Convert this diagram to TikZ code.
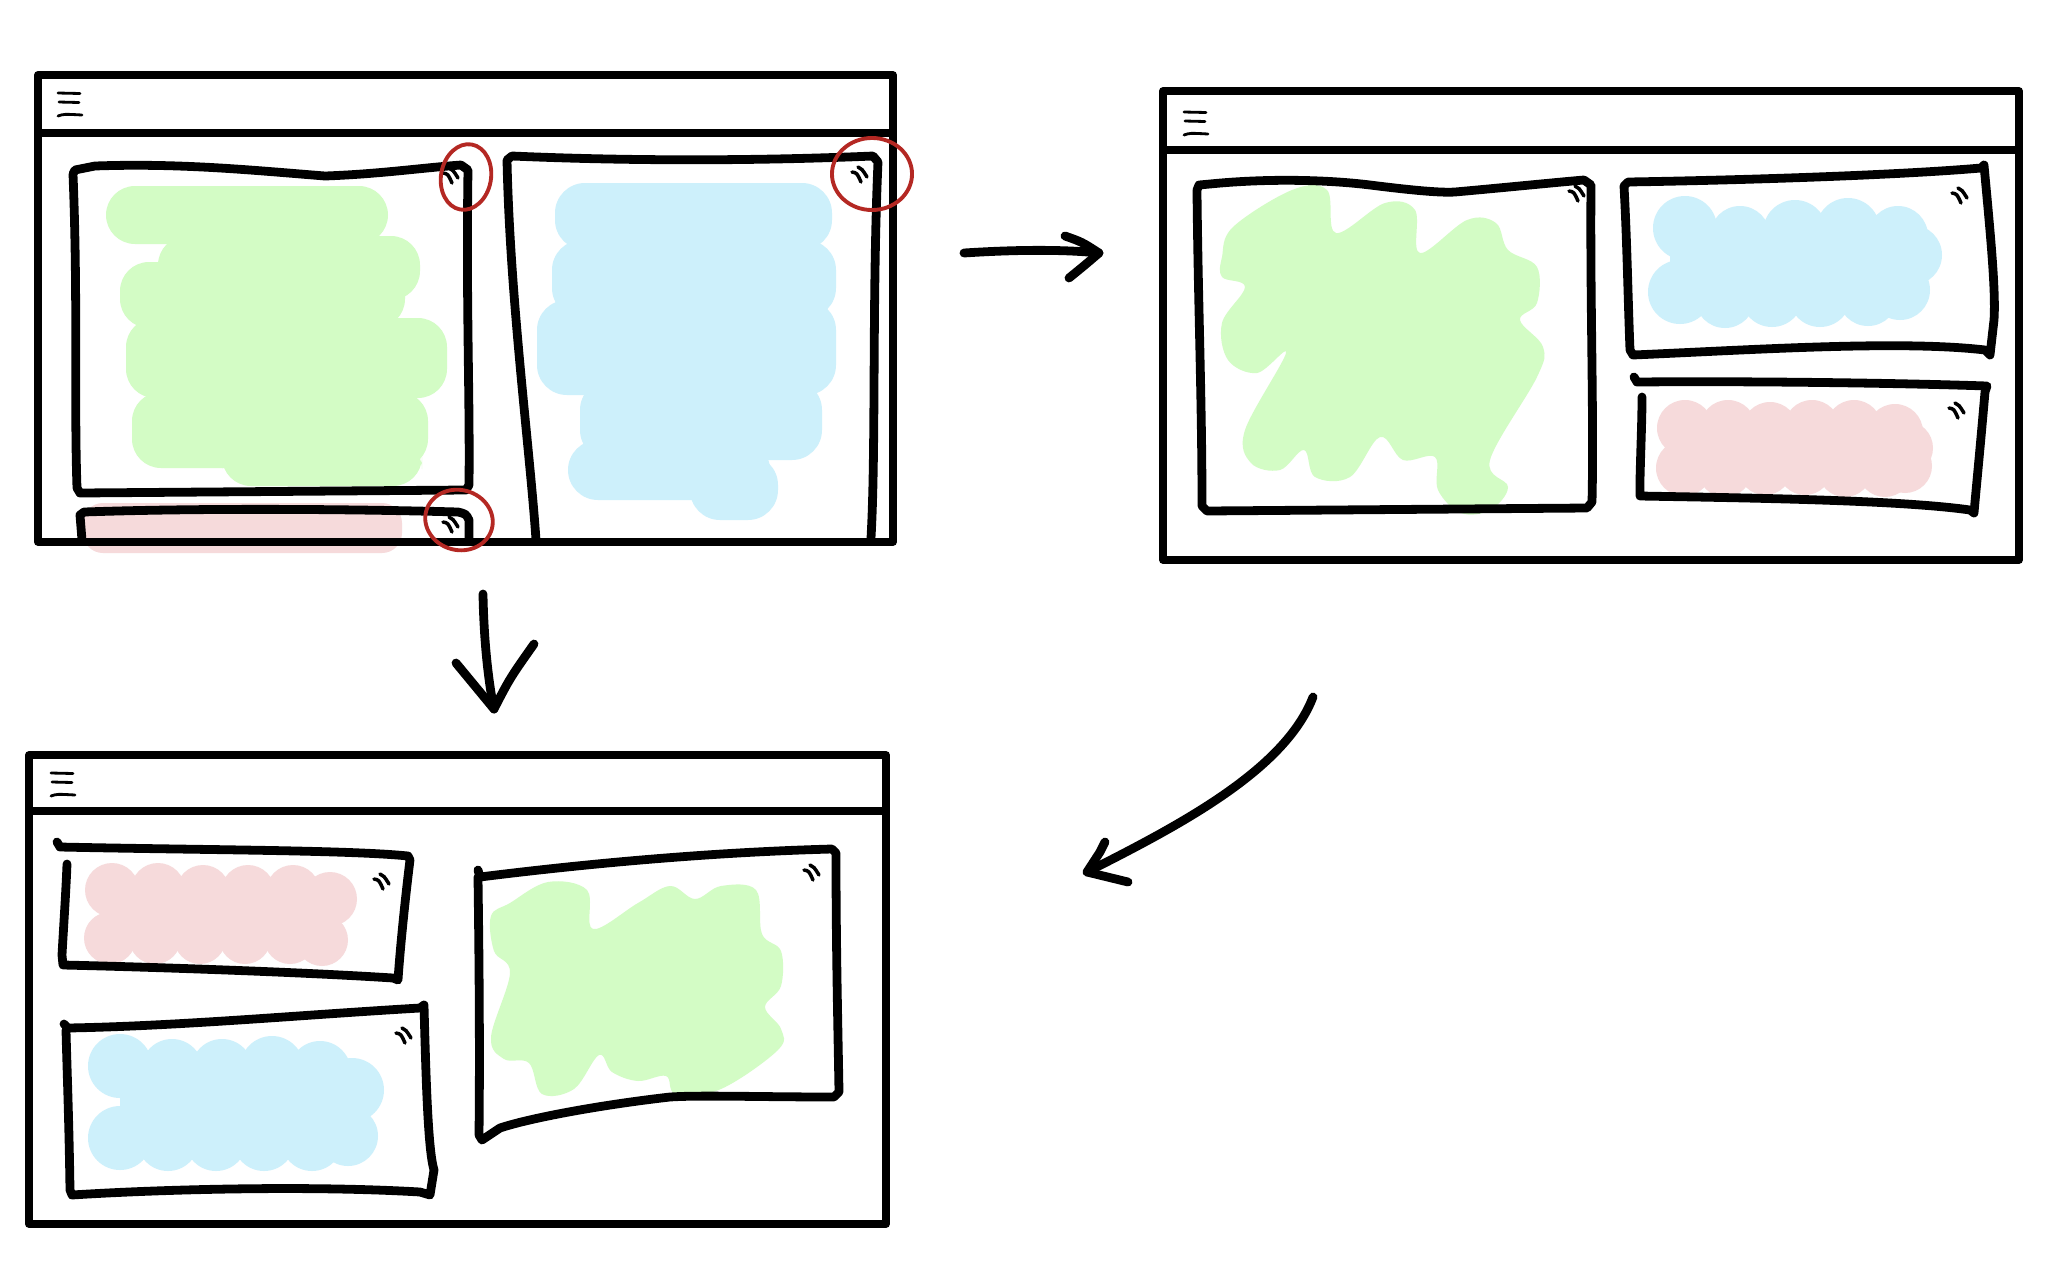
\documentclass[tikz,border=0pt]{standalone}
\definecolor{gfill}{HTML}{D3FCC5}
\definecolor{bfill}{HTML}{CDF0FB}
\definecolor{pfill}{HTML}{F6DADB}
\definecolor{redmark}{RGB}{180,40,35}
\tikzset{
  win/.style={line width=2.2pt, line join=round, line cap=round},
  card/.style={line width=2.5pt, line join=round, line cap=round},
  thinline/.style={line width=0.8pt, line cap=round},
  cornermark/.style={line width=1pt, line cap=round},
  redcirc/.style={redmark, line width=1.1pt},
  arr/.style={line width=2.5pt, line cap=round, line join=round},
  gblob/.style={fill=gfill, draw=none},
  bblob/.style={fill=bfill, draw=none},
  pblob/.style={fill=pfill, draw=none},
  gstroke/.style={fill=gfill, draw=none, rounded corners=0.29cm},
  bstroke/.style={fill=bfill, draw=none, rounded corners=0.3cm}
}
\newcommand\hamb[2]{\draw[thinline, shift={(#1,#2)}] (0,0) -- (22,0.5) (1,9) -- (21,9.5) (0,23) .. controls (6,21) .. (24,22);}
\newcommand\cmk[2]{\draw[cornermark, shift={(#1,#2)}] (-9,-5) .. controls (-4,-4) .. (0,5) (-3,-10) .. controls (1,-8) .. (6,0);}
\newcommand\bub[4]{\fill[#1] (#2,#3) circle [radius=#4*0.01cm];}
\begin{document}
\begin{tikzpicture}[x=0.01cm, y=-0.01cm]
\useasboundingbox (0,0) rectangle (2056,1263);
\fill[white] (0,0) rectangle (2056,1263);

% ---------- Window 1 blobs ----------
\fill[gstroke] (106,186) rectangle (388,244);
\fill[gstroke] (158,236) rectangle (420,300);
\fill[gstroke] (120,262) rectangle (405,328);
\fill[gstroke] (126,318) rectangle (447,398);
\fill[gstroke] (132,392) rectangle (428,468);
\fill[gstroke] (222,440) rectangle (422,486);
\fill[bstroke] (555,183) rectangle (832,250);
\fill[bstroke] (552,240) rectangle (836,318);
\fill[bstroke] (537,300) rectangle (836,395);
\fill[bstroke] (580,380) rectangle (822,460);
\fill[bstroke] (568,440) rectangle (770,500);
\fill[bstroke] (690,455) rectangle (778,520);
\fill[pblob, rounded corners=0.2cm] (83,503) rectangle (402,553);

% ---------- Window 2 blobs ----------
\fill[gblob] plot[smooth cycle, tension=0.6] coordinates {(1222,257) (1233,227) (1292,190) (1327,190) (1336,233) (1385,203) (1415,210) (1420,253) (1467,220) (1496,223) (1508,250) (1537,267) (1537,303) (1520,320) (1543,347) (1537,377) (1490,460) (1508,487) (1490,510) (1461,513) (1438,490) (1435,457) (1403,460) (1380,437) (1350,477) (1315,477) (1304,450) (1280,470) (1251,463) (1245,430) (1286,353) (1257,373) (1228,360) (1222,323) (1245,287) (1222,277)};
% blue scallops
\fill[bblob] (1670,228) -- (1925,235) -- (1915,300) -- (1670,295) -- cycle;
\bub{bfill}{1685}{228}{32}
\bub{bfill}{1740}{236}{30}
\bub{bfill}{1795}{232}{32}
\bub{bfill}{1848}{230}{32}
\bub{bfill}{1898}{236}{30}
\bub{bfill}{1912}{255}{30}
\bub{bfill}{1680}{292}{32}
\bub{bfill}{1725}{298}{30}
\bub{bfill}{1772}{296}{31}
\bub{bfill}{1820}{296}{31}
\bub{bfill}{1868}{296}{30}
\bub{bfill}{1900}{290}{30}
% pink scallops
\fill[pblob] (1680,428) -- (1905,428) -- (1905,470) -- (1680,470) -- cycle;
\bub{pfill}{1685}{428}{28}
\bub{pfill}{1728}{428}{28}
\bub{pfill}{1770}{430}{28}
\bub{pfill}{1812}{428}{28}
\bub{pfill}{1854}{428}{28}
\bub{pfill}{1895}{432}{28}
\bub{pfill}{1906}{448}{27}
\bub{pfill}{1684}{468}{28}
\bub{pfill}{1725}{470}{27}
\bub{pfill}{1765}{468}{27}
\bub{pfill}{1805}{468}{27}
\bub{pfill}{1845}{470}{27}
\bub{pfill}{1885}{470}{27}
\bub{pfill}{1905}{466}{27}

% ---------- Window 3 blobs ----------
\fill[pblob] (112,890) -- (330,890) -- (325,938) -- (112,938) -- cycle;
\bub{pfill}{112}{890}{27}
\bub{pfill}{158}{890}{27}
\bub{pfill}{203}{892}{27}
\bub{pfill}{248}{892}{27}
\bub{pfill}{293}{892}{27}
\bub{pfill}{330}{899}{27}
\bub{pfill}{110}{938}{26}
\bub{pfill}{155}{938}{26}
\bub{pfill}{200}{938}{26}
\bub{pfill}{245}{938}{26}
\bub{pfill}{290}{938}{26}
\bub{pfill}{322}{940}{26}
\fill[bblob] (120,1066) -- (355,1070) -- (350,1140) -- (120,1140) -- cycle;
\bub{bfill}{120}{1066}{32}
\bub{bfill}{172}{1070}{31}
\bub{bfill}{222}{1070}{31}
\bub{bfill}{272}{1068}{32}
\bub{bfill}{320}{1072}{31}
\bub{bfill}{352}{1090}{32}
\bub{bfill}{120}{1138}{32}
\bub{bfill}{168}{1140}{31}
\bub{bfill}{216}{1140}{31}
\bub{bfill}{264}{1140}{31}
\bub{bfill}{312}{1140}{31}
\bub{bfill}{348}{1136}{30}
\fill[gblob] plot[smooth cycle, tension=0.6] coordinates {(491,916) (510,903) (548,882) (587,890) (593,929) (638,903) (670,886) (695,899) (721,886) (756,890) (762,934) (781,951) (781,986) (765,1007) (781,1029) (778,1050) (721,1089) (676,1094) (666,1076) (638,1081) (612,1072) (599,1055) (574,1089) (542,1094) (529,1063) (504,1059) (491,1037) (510,973) (494,951)};

% ---------- Window 1 ----------
\draw[win] (38,75) rectangle (893,542);
\draw[win] (38,133) -- (893,133);
\hamb{58}{93}
\draw[card] (73,174) -- (75,170) -- (95,166) .. controls (180,163) and (250,170) .. (325,176) .. controls (380,174) and (420,168) .. (461,165) -- (468,170) .. controls (466,300) and (470,400) .. (469,485) -- (466,490) -- (80,493) -- (77,488) .. controls (74,400) and (78,300) .. (73,174);
\draw[card] (536,540) .. controls (530,450) and (510,300) .. (507,160) -- (512,156) .. controls (650,162) and (780,160) .. (873,156) -- (878,162) .. controls (872,300) and (876,450) .. (871,538);
\draw[card] (82,540) -- (80,515) -- (84,512) .. controls (200,508) and (350,509) .. (458,512) .. controls (466,514) .. (469,520) -- (469,540);
\cmk{452}{178}
\cmk{861}{177}
\cmk{452}{527}
\draw[redcirc, rotate around={-10:(466,177)}] (466,177) ellipse [x radius=0.25cm, y radius=0.33cm];
\draw[redcirc] (872,174) ellipse [x radius=0.40cm, y radius=0.36cm];
\draw[redcirc, rotate around={-15:(459,520)}] (459,520) ellipse [x radius=0.34cm, y radius=0.30cm];

% ---------- Window 2 ----------
\draw[win] (1163,91) rectangle (2019,560);
\draw[win] (1163,150) -- (2019,150);
\hamb{1184}{112}
\draw[card] (1197,190) -- (1199,185) -- (1210,184) .. controls (1270,178) and (1330,180) .. (1370,185) .. controls (1410,190) and (1440,193) .. (1455,192) .. controls (1500,188) and (1560,182) .. (1584,180) -- (1591,185) .. controls (1590,300) and (1594,420) .. (1592,502) -- (1587,508) -- (1207,511) -- (1202,506) .. controls (1202,400) and (1198,300) .. (1197,190);
\draw[card] (1624,186) -- (1628,182) .. controls (1750,180) and (1900,175) .. (1981,168) -- (1984,165) .. controls (1990,230) and (1996,290) .. (1994,320) -- (1990,355) -- (1985,350) .. controls (1900,340) and (1750,350) .. (1633,355) -- (1630,350) .. controls (1628,300) and (1627,240) .. (1624,186);
\draw[card] (1634,377) -- (1637,382) .. controls (1750,381) and (1900,383) .. (1987,386) -- (1985,392) .. controls (1980,450) and (1976,490) .. (1974,513) -- (1970,510) .. controls (1900,500) and (1750,498) .. (1640,496) -- (1640,480) .. controls (1641,440) and (1642,420) .. (1642,397);
\cmk{1578}{196}
\cmk{1961}{198}
\cmk{1958}{413}

% ---------- Window 3 ----------
\draw[win] (29,755) rectangle (886,1224);
\draw[win] (29,811) -- (886,811);
\hamb{51}{773}
\draw[card] (57,842) -- (60,847) .. controls (200,850) and (350,850) .. (408,856) -- (410,860) .. controls (405,900) and (400,950) .. (398,980) -- (393,978) .. controls (300,972) and (150,967) .. (63,965) -- (62,955) .. controls (64,920) and (66,890) .. (67,864);
\draw[card] (64,1024) -- (68,1028) .. controls (180,1026) and (300,1015) .. (420,1008) -- (424,1005) .. controls (426,1080) and (428,1150) .. (434,1170) -- (430,1195) -- (420,1192) .. controls (300,1185) and (150,1190) .. (72,1195) -- (70,1190) .. controls (69,1120) and (67,1070) .. (66,1030);
\draw[card] (478,870) -- (480,877) .. controls (600,862) and (720,852) .. (832,849) -- (836,853) .. controls (836,950) and (838,1030) .. (839,1092) -- (834,1097) .. controls (760,1097) and (700,1095) .. (670,1097) .. controls (600,1105) and (530,1118) .. (500,1128) -- (482,1140) -- (479,1135) .. controls (480,1050) and (479,950) .. (478,877);
\cmk{383}{884}
\cmk{405}{1038}
\cmk{813}{875}

% ---------- Arrows ----------
\coordinate (r1) at (964,253);
\coordinate (r2) at (1099,253);
\draw[arr] (r1) .. controls (1010,250) and (1060,249) .. (r2);
\draw[arr] (1065,236) .. controls (1082,242) .. (r2) .. controls (1085,265) .. (1069,278);
\coordinate (d1) at (483,594);
\coordinate (d2) at (494,709);
\draw[arr] (d1) .. controls (484,650) and (490,690) .. (d2);
\draw[arr] (456,663) .. controls (476,686) .. (d2) .. controls (510,678) .. (534,644);
\coordinate (c1) at (1313,697);
\coordinate (c2) at (1087,872);
\draw[arr] (c1) .. controls (1285,770) and (1180,825) .. (c2);
\draw[arr] (1105,842) -- (1100,852) -- (c2) -- (1128,882);
\end{tikzpicture}
\end{document}
